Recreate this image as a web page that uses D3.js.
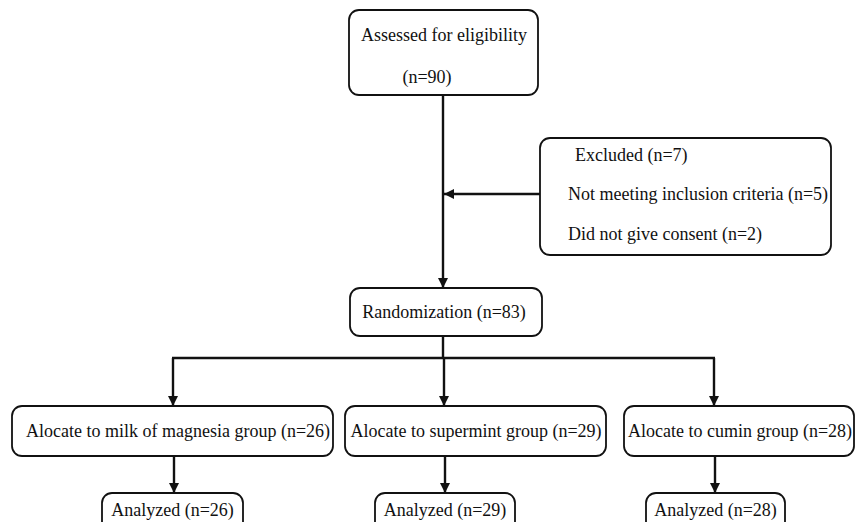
<!DOCTYPE html>
<html>
<head>
<meta charset="utf-8">
<script src="https://cdn.jsdelivr.net/npm/d3@7"></script>
<style>
  body { margin: 0; background: #fff; }
  svg { display: block; }
</style>
</head>
<body>
<div id="chart"></div>
<script>
// Flow counts
const assessedN = 90
const excludedN = 7
const exclusionReasons = ["Not meeting inclusion criteria", "Did not give consent"]
const exclusionCounts = [5, 2]
const randomizedN = 83
const groups = ["milk of magnesia", "supermint", "cumin"]
const allocatedCounts = [26, 29, 28]
const analyzedCounts = [26, 29, 28]

const width = 856, height = 522

const svg = d3.select("#chart").append("svg")
  .attr("width", width)
  .attr("height", height)

svg.append("defs").append("marker")
    .attr("id", "arrow")
    .attr("viewBox", "0 0 10 10")
    .attr("refX", 10).attr("refY", 5)
    .attr("markerWidth", 10).attr("markerHeight", 10)
    .attr("markerUnits", "userSpaceOnUse")
    .attr("orient", "auto")
  .append("path")
    .attr("d", "M0,0 L10,5 L0,10 Z")
    .attr("fill", "#111")

// column centres of the three arms
const armX = d3.scaleOrdinal().domain(groups).range([173, 444, 714])

function box(x, y, w, h) {
  svg.append("rect")
    .attr("x", x).attr("y", y)
    .attr("width", w).attr("height", h)
    .attr("rx", 10).attr("ry", 10)
    .attr("fill", "#fff")
    .attr("stroke", "#111")
    .attr("stroke-width", 1.8)
}

function label(str, x, y, anchor) {
  return svg.append("text")
    .attr("x", x).attr("y", y)
    .attr("font-family", "'Liberation Serif', serif")
    .attr("font-size", 18)
    .attr("fill", "#111")
    .attr("text-anchor", anchor || "middle")
    .text(str)
}

function line(x1, y1, x2, y2, arrow) {
  const l = svg.append("line")
    .attr("x1", x1).attr("y1", y1)
    .attr("x2", x2).attr("y2", y2)
    .attr("stroke", "#111")
    .attr("stroke-width", 2.4)
  if (arrow) l.attr("marker-end", "url(#arrow)")
}

// main trunk
line(443, 95, 443, 288, true)
line(541, 194, 444, 194, true)

// assessed
box(349, 10, 189, 85)
label("Assessed for eligibility", 444, 41)
label(`(n=${assessedN})`, 427, 83)

// excluded
box(540, 138, 291, 117)
label(`Excluded (n=${excludedN})`, 575, 161, "start")
exclusionReasons.forEach((r, i) => {
  label(`${r} (n=${exclusionCounts[i]})`, 568, 200 + i * 40, "start")
})

// randomization
box(350, 288, 192, 48)
label(`Randomization (n=${randomizedN})`, 444, 318)
line(443, 336, 443, 358)
line(armX(groups[0]) - 1, 358, armX(groups[2]) + 1, 358)

// arms
const allocBoxes = [[12, 321], [345, 261], [624, 230]]
const analyzedBoxes = [[102, 141], [375, 140], [646, 139]]
const allocTextX = [178, 476, 740]

groups.forEach((g, i) => {
  const cx = armX(g)
  line(cx, 358, cx, 406, true)
  const [ax, aw] = allocBoxes[i]
  box(ax, 406, aw, 50)
  label(`Alocate to ${g} group (n=${allocatedCounts[i]})`, allocTextX[i], 437)
  line(cx + 1, 456, cx + 1, 493, true)
  const [bx, bw] = analyzedBoxes[i]
  box(bx, 493, bw, 40)
  label(`Analyzed (n=${analyzedCounts[i]})`, bx + bw / 2, 516)
})
</script>
</body>
</html>
